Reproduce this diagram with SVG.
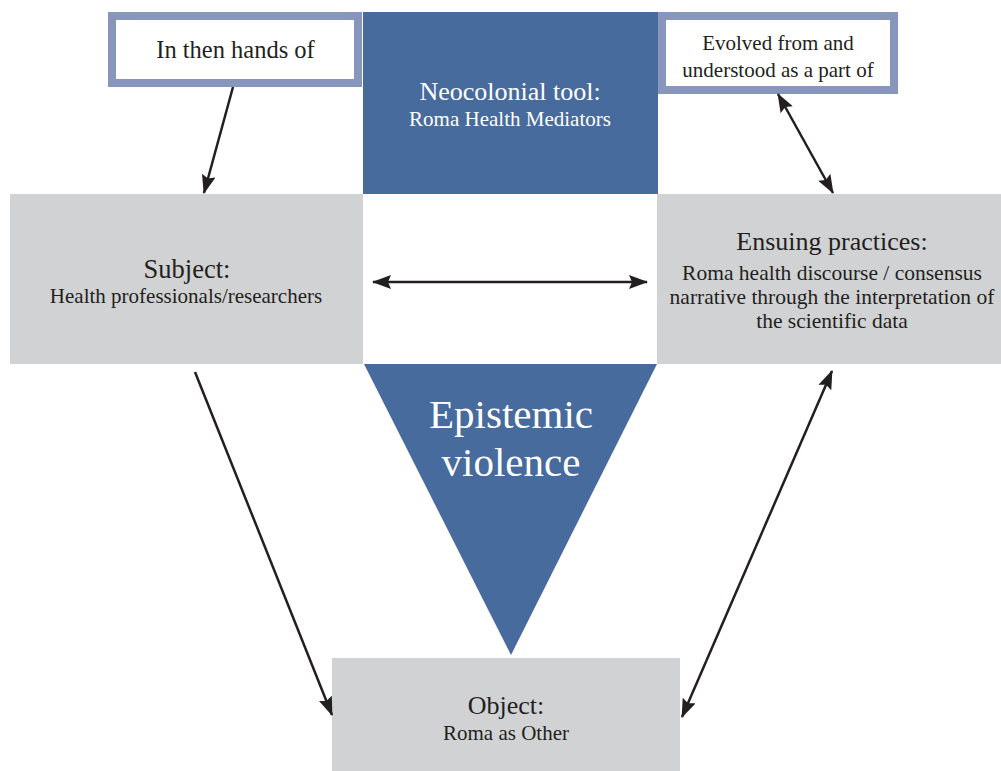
<svg xmlns="http://www.w3.org/2000/svg" width="1001" height="771" viewBox="0 0 1001 771">
<style>
.t{font-family:"Liberation Serif","DejaVu Serif",serif;text-anchor:middle}
.dk{fill:#231f20}
.wt{fill:#ffffff}
.grey{fill:#d1d2d4}
.blue{fill:#476b9d}
.frame{fill:#ffffff;stroke:#8896bb;stroke-width:8}
.conn{stroke:#231f20;stroke-width:2.5;fill:none}
</style>
<defs>
<marker id="ah" markerUnits="userSpaceOnUse" markerWidth="19" markerHeight="14" refX="18" refY="7" orient="auto-start-reverse" viewBox="0 0 19 14">
<path d="M0,0 L19,7 L0,14 L3,7 z" fill="#231f20"/>
</marker>
</defs>
<rect width="1001" height="771" fill="#ffffff"/>
<g id="neocolonial">
<rect class="blue" x="363" y="12" width="295" height="182"/>
<text class="t wt" x="510" y="100" font-size="26">Neocolonial tool:</text>
<text class="t wt" x="510" y="126" font-size="21">Roma Health Mediators</text>
</g>
<g id="hands">
<rect class="frame" x="112" y="16" width="246" height="67"/>
<text class="t dk" x="235.5" y="58" font-size="24.5">In then hands of</text>
</g>
<g id="evolved">
<rect class="frame" x="662" y="16" width="232" height="74"/>
<text class="t dk" x="778" y="50" font-size="21">Evolved from and</text>
<text class="t dk" x="778" y="77" font-size="21">understood as a part of</text>
</g>
<g id="subject">
<rect class="grey" x="10" y="194" width="353" height="170"/>
<text class="t dk" x="187" y="278" font-size="26.5">Subject:</text>
<text class="t dk" x="186" y="303" font-size="21">Health professionals/researchers</text>
</g>
<g id="ensuing">
<rect class="grey" x="657" y="194" width="344" height="170"/>
<text class="t dk" x="832" y="250" font-size="26">Ensuing practices:</text>
<text class="t dk" x="832" y="280" font-size="21.5">Roma health discourse / consensus</text>
<text class="t dk" x="832" y="304" font-size="21.5">narrative through the interpretation of</text>
<text class="t dk" x="832" y="328" font-size="21.5">the scientific data</text>
</g>
<g id="epistemic">
<polygon class="blue" points="364,364 657,364 511,655"/>
<text class="t wt" x="511" y="428" font-size="41">Epistemic</text>
<text class="t wt" x="511" y="476" font-size="41">violence</text>
</g>
<g id="object">
<rect class="grey" x="332" y="658" width="348" height="113"/>
<text class="t dk" x="506" y="714" font-size="26">Object:</text>
<text class="t dk" x="506" y="740" font-size="21">Roma as Other</text>
</g>
<g id="connectors">
<line class="conn" x1="233" y1="87" x2="204" y2="193" marker-end="url(#ah)"/>
<line class="conn" x1="778" y1="94" x2="833" y2="193" marker-start="url(#ah)" marker-end="url(#ah)"/>
<line class="conn" x1="373" y1="282" x2="647" y2="282" marker-start="url(#ah)" marker-end="url(#ah)"/>
<line class="conn" x1="195" y1="372" x2="332" y2="715" marker-end="url(#ah)"/>
<line class="conn" x1="832" y1="371" x2="682" y2="717" marker-start="url(#ah)" marker-end="url(#ah)"/>
</g>
</svg>
